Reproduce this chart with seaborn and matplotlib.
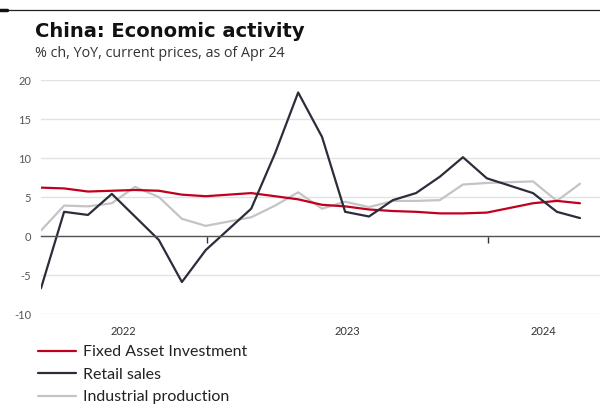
import matplotlib
matplotlib.use("Agg")
import matplotlib.pyplot as plt
import matplotlib.dates as mdates
import matplotlib.transforms as mtransforms
from matplotlib.lines import Line2D
import pandas as pd
import seaborn as sns

# Monthly releases (Jan figures are published together with Feb)
months = ["2022-05", "2022-06", "2022-07", "2022-08", "2022-09", "2022-10",
          "2022-11", "2022-12", "2023-02", "2023-03", "2023-04", "2023-05",
          "2023-06", "2023-07", "2023-08", "2023-09", "2023-10", "2023-11",
          "2023-12", "2024-02", "2024-03", "2024-04"]
fixed_asset = [6.2, 6.1, 5.7, 5.8, 5.9, 5.8, 5.3, 5.1, 5.5, 5.1, 4.7, 4.0,
               3.8, 3.4, 3.2, 3.1, 2.9, 2.9, 3.0, 4.2, 4.5, 4.2]
retail_sales = [-6.7, 3.1, 2.7, 5.4, 2.5, -0.5, -5.9, -1.8, 3.5, 10.6, 18.4, 12.7,
                3.1, 2.5, 4.6, 5.5, 7.6, 10.1, 7.4, 5.5, 3.1, 2.3]
industrial = [0.7, 3.9, 3.8, 4.2, 6.3, 5.0, 2.2, 1.3, 2.4, 3.9, 5.6, 3.5,
              4.4, 3.7, 4.5, 4.5, 4.6, 6.6, 6.8, 7.0, 4.5, 6.7]

series_names = ["Fixed Asset Investment", "Retail sales", "Industrial production"]
series_colors = ["#c0001e", "#2b2d3b", "#c4c4c4"]
year_labels = ["2022", "2023", "2024"]
y_ticks = [-10, -5, 0, 5, 10, 15, 20]

dates = pd.PeriodIndex(months, freq="M").to_timestamp(how="end").normalize()
df = pd.concat([
    pd.DataFrame({"date": dates, "value": vals, "series": name})
    for name, vals in zip(series_names, [fixed_asset, retail_sales, industrial])
])

sns.set_theme(style="white")
plt.rcParams["font.family"] = ["Lato", "DejaVu Sans"]

fig = plt.figure(figsize=(6.0, 4.05), dpi=100)
ax = fig.add_axes([41 / 600, 1 - 314 / 405, 1 - 41 / 600, 234 / 405])

palette = dict(zip(series_names, series_colors))
sns.lineplot(data=df, x="date", y="value", hue="series",
             hue_order=["Industrial production", "Fixed Asset Investment", "Retail sales"],
             palette=palette, linewidth=1.6, legend=False, ax=ax, sort=False)

x_start = pd.Timestamp("2022-05-31")
x_end = pd.Timestamp("2024-05-26")
ax.set_xlim(x_start, x_end)
ax.set_ylim(-10, 20)

# y axis: gridlines and labels only
ax.set_yticks(y_ticks)
ax.set_yticklabels([str(t) for t in y_ticks])
ax.yaxis.grid(True, color="#e2e2e2", linewidth=1.0)
ax.set_axisbelow(True)
ax.tick_params(axis="y", length=0, pad=7, labelsize=8, labelcolor="#555555")

# x axis sits on the zero line with ticks at year boundaries
for side in ["left", "right", "top"]:
    ax.spines[side].set_visible(False)
ax.spines["bottom"].set_position(("data", 0))
ax.spines["bottom"].set_color("#555555")
ax.spines["bottom"].set_linewidth(1.0)
ax.xaxis.set_major_locator(mdates.YearLocator())
ax.tick_params(axis="x", direction="out", length=5, width=1, color="#333333",
               labelbottom=False, bottom=True)
ax.set_xlabel("")
ax.set_ylabel("")

# year labels centred on each visible year span, below the plot
trans = mtransforms.blended_transform_factory(ax.transData, ax.transAxes)
for yl in year_labels:
    lo = max(pd.Timestamp(f"{yl}-01-01"), x_start)
    hi = min(pd.Timestamp(f"{int(yl) + 1}-01-01"), x_end)
    mid = lo + (hi - lo) / 2
    ax.text(mdates.date2num(mid), -0.073, yl, transform=trans, ha="center",
            va="center", fontsize=8, color="#333333")

# header rule
fig.add_artist(Line2D([0, 1], [1 - 9.5 / 405] * 2, color="#222222", lw=0.9,
                      transform=fig.transFigure))
fig.add_artist(Line2D([0, 7 / 600], [1 - 9.5 / 405] * 2, color="#111111", lw=2.5,
                      transform=fig.transFigure))

fig.text(35 / 600, 1 - 37 / 405, "China: Economic activity", fontsize=14,
         fontweight="bold", family=["DejaVu Sans"],
         color="#111111", va="baseline")
fig.text(35 / 600, 1 - 57 / 405, "% ch, YoY, current prices, as of Apr 24",
         fontsize=10.3, family=["Open Sans", "DejaVu Sans"], color="#333333",
         va="baseline")

handles = [Line2D([], [], color=c, lw=1.6) for c in series_colors]
fig.legend(handles, series_names, loc="upper left",
           bbox_to_anchor=(38 / 600, 1 - 345 / 405), frameon=False,
           borderpad=0, borderaxespad=0, handlelength=2.4, handletextpad=0.4,
           labelspacing=0.52, fontsize=11.5, labelcolor="#222222")

fig.savefig("out.png", dpi=100)
